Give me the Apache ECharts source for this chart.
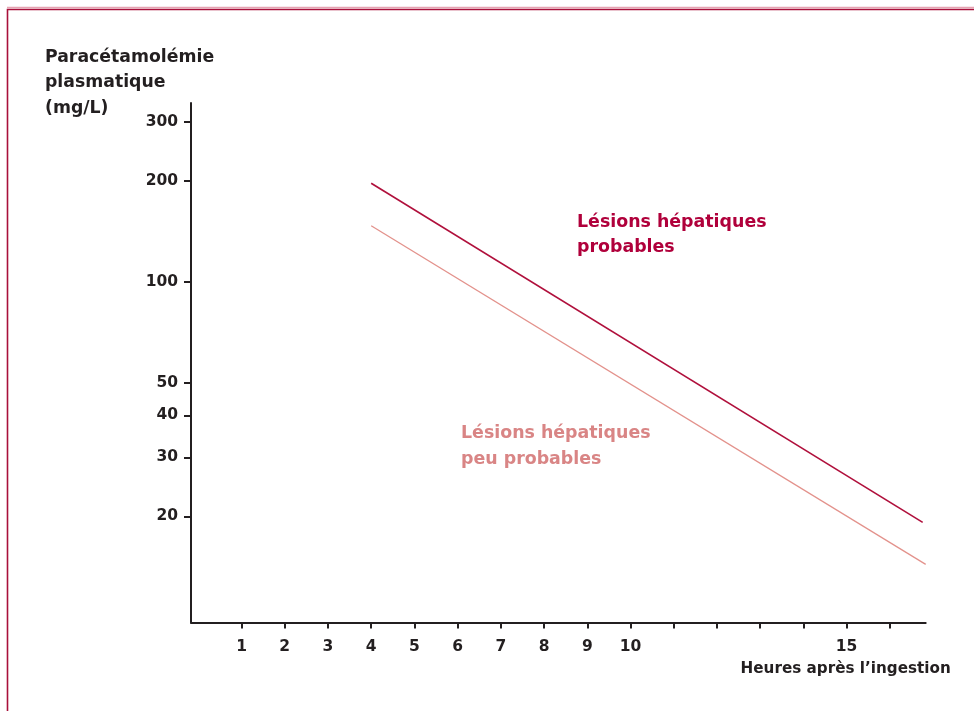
<!DOCTYPE html>
<html><head><meta charset="utf-8">
<script src="https://cdn.jsdelivr.net/npm/echarts@6/dist/echarts.min.js"></script>
<style>html,body{margin:0;padding:0;background:#fff}#c{width:974px;height:711px}</style>
</head><body><div id="c"></div>
<script>
// Data (y in mg/L, x in hours after ingestion)
const upperHours = [4, 16.76];
const upperValues = [196.5, 19.2];
const lowerHours = [4, 16.83];
const lowerValues = [146.9, 14.4];
const xTickValues = [1, 2, 3, 4, 5, 6, 7, 8, 9, 10, 11, 12, 13, 14, 15, 16];
const xLabelValues = [1, 2, 3, 4, 5, 6, 7, 8, 9, 10, 15];
const yTickLabels = [20, 30, 40, 50, 100, 200, 300];
const yMin = 9.664, yMax = 340.8;
const xMin = -0.169, xMax = 16.83;

const L = Math.log10;
const axisColor = '#231f20';
const FONT = '"DejaVu Sans", sans-serif';

const chart = echarts.init(document.getElementById('c'), null, {renderer: 'canvas'});
chart.setOption({
  animation: false,
  backgroundColor: '#ffffff',
  grid: {left: 191, right: 48.3, top: 103, bottom: 88.5},
  xAxis: {
    type: 'value', min: xMin, max: xMax,
    name: 'Heures après l’ingestion',
    nameLocation: 'end', nameGap: 25,
    nameTextStyle: {align: 'right', verticalAlign: 'top', padding: [39, 0, 0, 0],
      fontFamily: FONT, fontWeight: 'bold', fontSize: 15.2, color: axisColor},
    axisLine: {show: true, onZero: false, lineStyle: {color: axisColor, width: 2}},
    axisTick: {show: true, customValues: xTickValues, length: 6, lineStyle: {color: axisColor, width: 2}},
    axisLabel: {show: true, customValues: xLabelValues, margin: 16,
      fontFamily: FONT, fontWeight: 'bold', fontSize: 15.5, color: axisColor},
    splitLine: {show: false}
  },
  yAxis: {
    type: 'value', min: L(yMin), max: L(yMax),
    axisLine: {show: true, onZero: false, lineStyle: {color: axisColor, width: 2}},
    axisTick: {show: true, customValues: yTickLabels.map(L), length: 7, lineStyle: {color: axisColor, width: 2}},
    axisLabel: {show: true, customValues: yTickLabels.map(L), margin: 13,
      formatter: v => String(Math.round(Math.pow(10, v))),
      fontFamily: FONT, fontWeight: 'bold', fontSize: 15.5, color: axisColor},
    splitLine: {show: false}
  },
  series: [
    {type: 'line', silent: true, symbol: 'none',
     data: upperHours.map((h, i) => [h, L(upperValues[i])]),
     lineStyle: {color: '#b0103c', width: 1.6}},
    {type: 'line', silent: true, symbol: 'none',
     data: lowerHours.map((h, i) => [h, L(lowerValues[i])]),
     lineStyle: {color: '#e3928c', width: 1.3}}
  ],
  graphic: [
    {type: 'line', shape: {x1: 7, y1: 7.5, x2: 974, y2: 7.5}, style: {stroke: '#e6a3b2', lineWidth: 1.5}, silent: true},
    {type: 'rect', shape: {x: 7.5, y: 9.5, width: 1000, height: 800}, style: {fill: null, stroke: '#a8103a', lineWidth: 1.6}, silent: true},
    {type: 'text', left: 45, top: 44.5, silent: true,
     style: {text: 'Paracétamolémie\nplasmatique\n(mg/L)', font: 'bold 17.3px ' + FONT, fill: axisColor, lineHeight: 25.5}},
    {type: 'text', left: 577, top: 209.5, silent: true,
     style: {text: 'Lésions hépatiques\nprobables', font: 'bold 17.4px ' + FONT, fill: '#b0003b', lineHeight: 25}},
    {type: 'text', left: 461, top: 420, silent: true,
     style: {text: 'Lésions hépatiques\npeu probables', font: 'bold 17.4px ' + FONT, fill: '#d98585', lineHeight: 26}}
  ]
});
</script></body></html>
